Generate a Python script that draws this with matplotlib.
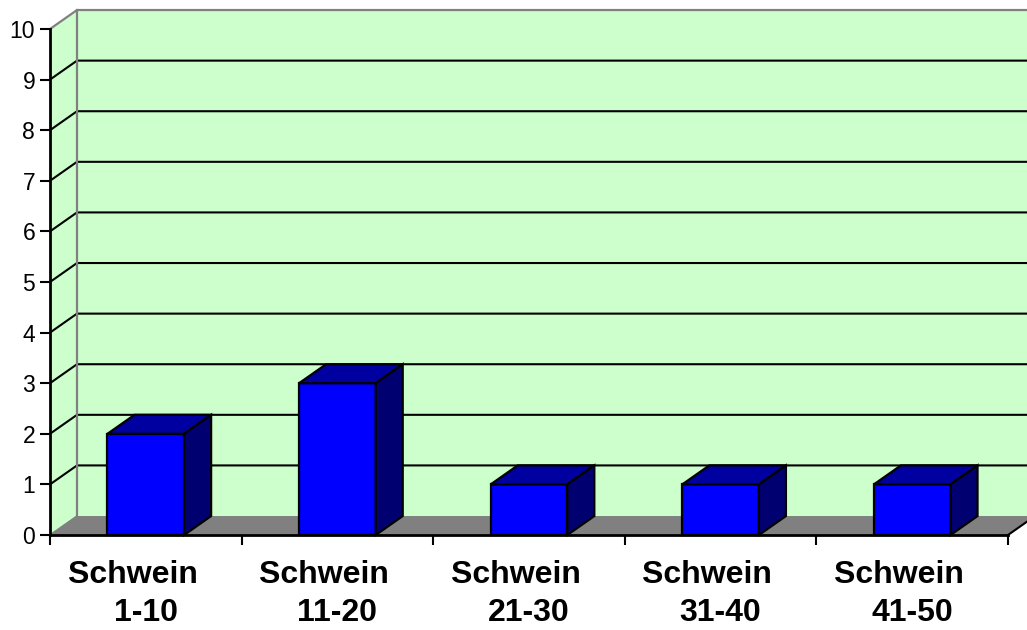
import matplotlib
matplotlib.use("Agg")
import matplotlib.pyplot as plt
from matplotlib.patches import Polygon

plt.rcParams['font.family'] = ['Liberation Sans', 'DejaVu Sans']

# Data
categories = ["Schwein   \n1-10", "Schwein   \n11-20", "Schwein   \n21-30",
              "Schwein   \n31-40", "Schwein   \n41-50"]
values = [2, 3, 1, 1, 1]
y_ticks = list(range(0, 11))

# Styling / 3D projection settings (in data units)
DX = 0.141   # depth offset along x (category units)
DY = 0.375   # depth offset along y (value units)
BAR_W = 0.40
WALL = '#CCFFCC'
FLOOR = '#808080'
EDGE_GRAY = '#808080'
FRONT = '#0000FF'
TOP = '#0000A0'
SIDE = '#000070'

n = len(values)
ymax = y_ticks[-1]

fig = plt.figure(figsize=(10.27, 6.3), dpi=100)
ax = fig.add_axes([50 / 1027, 95 / 630, 958 / 1027, 506 / 630])
ax.set_xlim(0, n)
ax.set_ylim(0, ymax)
ax.patch.set_visible(False)


def poly(pts, fc, ec='none', lw=0, z=1):
    p = Polygon(pts, closed=True, facecolor=fc, edgecolor=ec, linewidth=lw,
                zorder=z, clip_on=False, joinstyle='miter')
    ax.add_patch(p)


# back wall, side wall and floor
poly([(DX, DY), (n + DX, DY), (n + DX, ymax + DY), (DX, ymax + DY)], WALL, z=0.5)
poly([(0, 0), (DX, DY), (DX, ymax + DY), (0, ymax)], WALL, z=0.5)
poly([(0, 0), (n, 0), (n + DX, DY), (DX, DY)], FLOOR, z=0.6)

# gridlines on side and back walls
for v in y_ticks[1:-1]:
    ax.plot([0, DX, n + DX], [v, v + DY, v + DY], color='black', lw=1.5,
            zorder=0.8, clip_on=False, solid_joinstyle='miter')

# wall outlines
ax.plot([0, DX, n + DX], [ymax, ymax + DY, ymax + DY], color=EDGE_GRAY, lw=1.6,
        zorder=0.9, clip_on=False)
ax.plot([DX, DX], [DY, ymax + DY], color=EDGE_GRAY, lw=1.6, zorder=0.9, clip_on=False)
ax.plot([0, DX], [0, DY], color=EDGE_GRAY, lw=1.2, zorder=0.9, clip_on=False)
ax.plot([n, n + DX], [0, DY], color='black', lw=1.5, zorder=0.9, clip_on=False)

# 3D bars
for i, h in enumerate(values):
    x0 = i + 0.5 - BAR_W / 2
    x1 = i + 0.5 + BAR_W / 2
    poly([(x0, 0), (x1, 0), (x1, h), (x0, h)], FRONT, 'black', 1.6, z=3)
    poly([(x0, h), (x1, h), (x1 + DX, h + DY), (x0 + DX, h + DY)], TOP, 'black', 1.6, z=3)
    poly([(x1, 0), (x1 + DX, DY), (x1 + DX, h + DY), (x1, h)], SIDE, 'black', 1.6, z=3)

# axes
for s in ('top', 'right'):
    ax.spines[s].set_visible(False)
for s in ('left', 'bottom'):
    ax.spines[s].set_linewidth(2.0)
    ax.spines[s].set_zorder(4)

ax.set_yticks(y_ticks)
ax.set_yticklabels([str(t) for t in y_ticks])
ax.tick_params(axis='y', length=7.2, width=1.5, pad=3.5, labelsize=16.5)

ax.set_xticks(range(0, n + 1))
ax.set_xticklabels([])
ax.set_xticks([i + 0.5 for i in range(n)], minor=True)
ax.set_xticklabels(categories, minor=True, fontsize=23, fontweight='bold',
                   multialignment='center', linespacing=1.33)
ax.tick_params(axis='x', which='major', length=7.2, width=1.5)
ax.tick_params(axis='x', which='minor', length=0, pad=18)

fig.savefig('out.png', dpi=100)
